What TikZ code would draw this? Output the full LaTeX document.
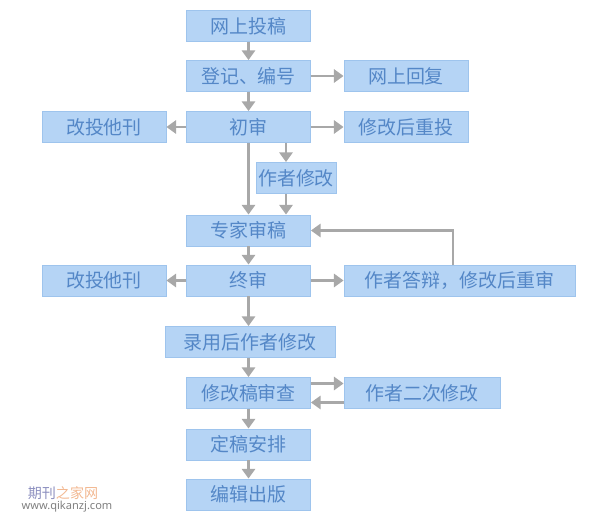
\documentclass[tikz,border=0pt]{standalone}
\usepackage{fontspec}
\usepackage{tikz}
\usetikzlibrary{arrows.meta}
\usetikzlibrary{positioning}
\newfontfamily\cjk{Noto Sans CJK SC}
\newfontfamily\wmfont{Noto Sans}
\definecolor{mblue}{rgb}{0.71, 0.83, 0.96}
\definecolor{mborder}{rgb}{0.62, 0.77, 0.93}
\definecolor{mtext}{rgb}{0.33, 0.53, 0.78}
\definecolor{mgray}{rgb}{0.66, 0.66, 0.66}
\definecolor{wmblue}{rgb}{0.55, 0.56, 0.75}
\definecolor{wmorange}{rgb}{0.95, 0.72, 0.57}
\tikzset{box/.style = {fill = mblue, draw = mborder, line width = 0.5pt, text = mtext, inner sep = 0,
    minimum height = 0.62cm, minimum width = 2.48cm, font = \cjk\fontsize{10.8}{12}\selectfont}}
\tikzset{flow/.style = {mgray, line width = 1.4pt, -{Triangle[length = 5.5pt, width = 7.5pt]}}}

\begin{document}
\begin{tikzpicture}[x = 0.02cm, y = -0.02cm]
  \useasboundingbox (0, 0) rectangle (599, 523);
  % main column
  \node [box] (submit) at (248.5, 26) {网上投稿};
  \node [box] (reg) at (248.5, 76) {登记、编号};
  \node [box] (first) at (248.5, 127) {初审};
  \node [box, minimum width = 1.6cm] (rev) at (296, 178) {作者修改};
  \node [box] (expert) at (248.5, 230.5) {专家审稿};
  \node [box] (final) at (248.5, 280.5) {终审};
  \node [box, minimum width = 3.4cm] (accept) at (250, 342) {录用后作者修改};
  \node [box] (check) at (248.5, 393) {修改稿审查};
  \node [box] (layout) at (248.5, 444.5) {定稿安排};
  \node [box] (publish) at (248.5, 494.5) {编辑出版};
  % side boxes
  \node [box] (reply) at (406, 76) {网上回复};
  \node [box] (resub) at (406, 127) {修改后重投};
  \node [box] (other1) at (104, 127) {改投他刊};
  \node [box] (other2) at (104, 280.5) {改投他刊};
  \node [box, minimum width = 4.62cm] (rebut) at (459.5, 280.5) {作者答辩，修改后重审};
  \node [box, minimum width = 3.12cm] (second) at (422, 393) {作者二次修改};
  \coordinate (revin) at (286, 0);
  \coordinate (back) at (453, 0);

  \draw [flow] (submit) -- (reg);
  \draw [flow] (reg) -- (reply);
  \draw [flow] (reg) -- (first);
  \draw [flow] (first) -- (other1);
  \draw [flow] (first) -- (resub);
  \draw [flow] (first) -- (expert);
  \draw [flow] (first.south -| revin) -- (rev.north -| revin);
  \draw [flow] (rev.south -| revin) -- (expert.north -| revin);
  \draw [flow] (expert) -- (final);
  \draw [flow] (final) -- (other2);
  \draw [flow] (final) -- (rebut);
  \draw [flow] (rebut.north -| back) |- (expert.east);
  \draw [flow] (final.south) -- (accept.north -| final.south);
  \draw [flow] (accept.south -| check.north) -- (check.north);
  \draw [flow] ([yshift = 0.19cm] check.east) -- ([yshift = 0.19cm] second.west);
  \draw [flow] ([yshift = -0.19cm] second.west) -- ([yshift = -0.19cm] check.east);
  \draw [flow] (check) -- (layout);
  \draw [flow] (layout) -- (publish);

  % watermark
  \node [font = \cjk\fontsize{8}{9}\selectfont, inner sep = 0] (wmname) at (63, 492.7)
    {\textcolor{wmblue}{期刊}\textcolor{wmorange}{之家网}};
  \node [font = \wmfont\fontsize{6.3}{7}\selectfont, text = gray, inner sep = 0] (wmurl) at (67, 506.7)
    {www.qikanzj.com};
\end{tikzpicture}
\end{document}
